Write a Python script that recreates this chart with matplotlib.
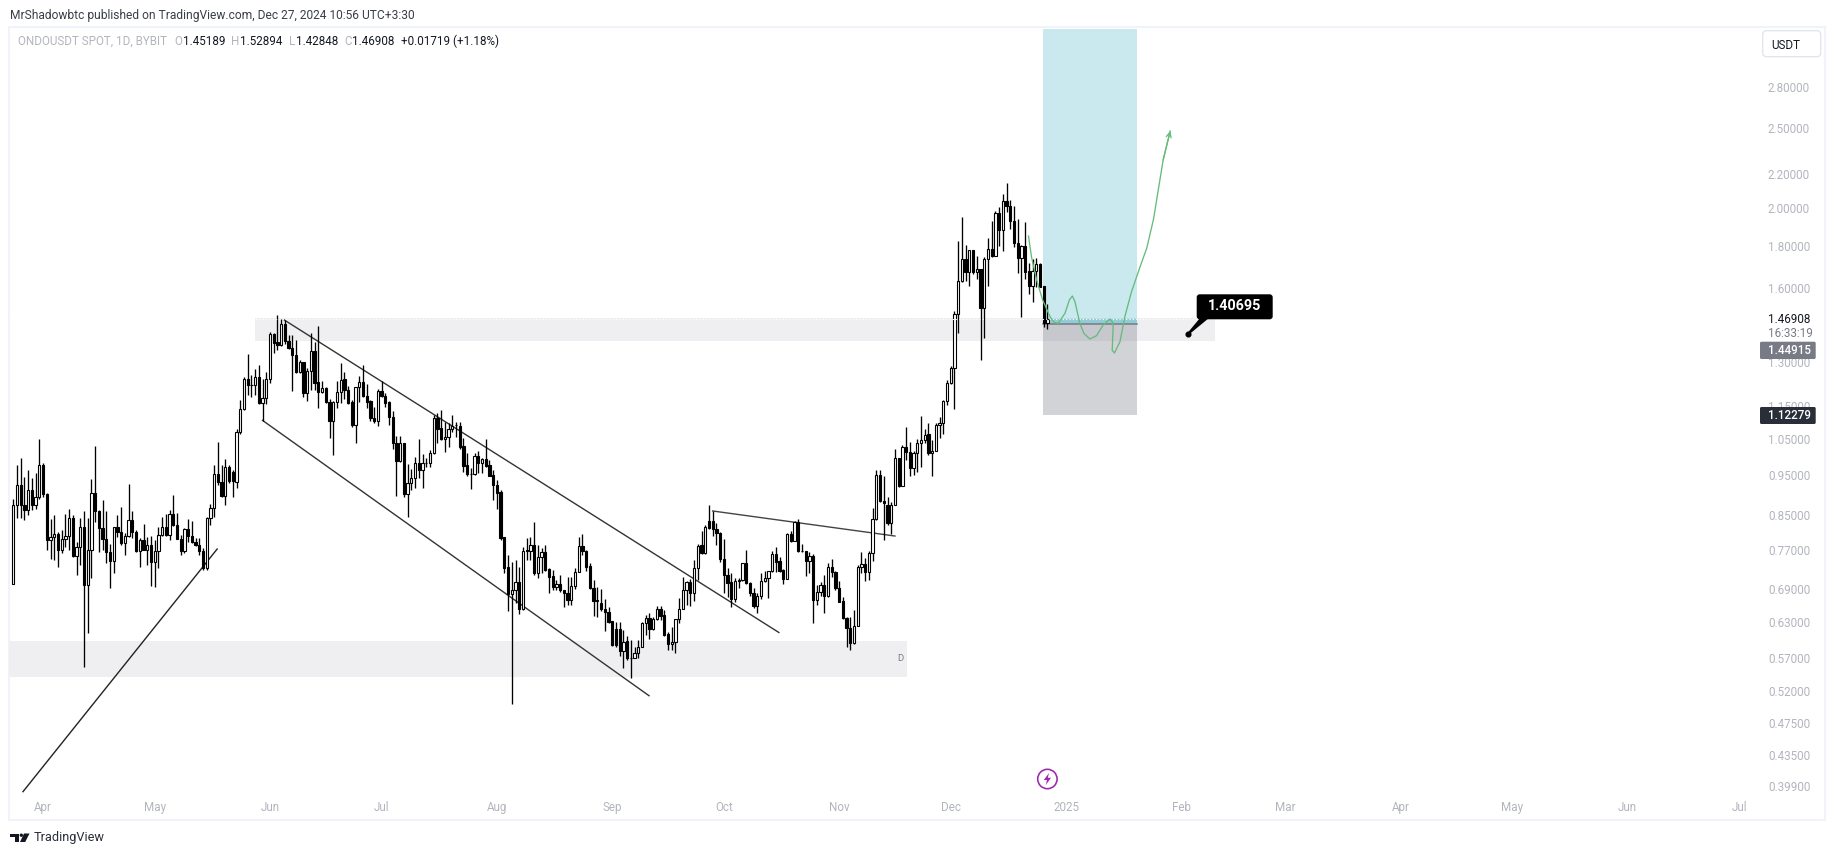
import numpy as np
import pandas as pd
import matplotlib
matplotlib.use("Agg")
import matplotlib.pyplot as plt
import matplotlib.dates as mdates
from matplotlib.patches import Rectangle, FancyBboxPatch, Circle, Polygon
from matplotlib.transforms import IdentityTransform
from matplotlib.ticker import FixedLocator, FixedFormatter, NullLocator

plt.rcParams['font.family'] = ['Roboto', 'DejaVu Sans']

opens = [.705,.877,.928,.878,.866,.915,.878,.897,.980,.903,
 .797,.803,.809,.775,.799,.806,.845,.762,.780,.825,
 .702,.775,.906,.863,.824,.799,.769,.750,.825,.813,
 .789,.804,.841,.815,.771,.797,.775,.784,.748,.771,
 .807,.826,.807,.855,.831,.799,.771,.820,.805,.791,
 .786,.772,.737,.845,.869,.955,.935,.899,.973,.962,
 .935,1.072,1.143,1.241,1.221,1.221,1.248,1.163,1.178,1.241,
 1.406,1.375,1.364,1.447,1.380,1.354,1.327,1.265,1.302,1.196,
 1.270,1.341,1.231,1.200,1.211,1.165,1.107,1.165,1.198,1.241,
 1.207,1.165,1.094,1.214,1.232,1.187,1.169,1.117,1.107,1.202,
 1.187,1.166,1.120,1.040,.991,1.040,.903,.931,.945,.984,
 .966,.986,.984,1.012,1.117,1.085,1.052,1.058,1.081,1.093,
 1.091,1.032,.979,.955,.955,1.004,.985,.995,.980,.952,
 .928,.908,.802,.738,.686,.692,.708,.657,.774,.772,
 .786,.727,.759,.769,.734,.721,.699,.705,.692,.688,
 .675,.700,.729,.783,.773,.740,.697,.674,.668,.658,
 .653,.636,.623,.623,.585,.602,.575,.575,.582,.593,
 .632,.641,.623,.640,.658,.646,.614,.597,.600,.639,
 .658,.692,.708,.688,.736,.784,.767,.838,.838,.821,
 .812,.755,.723,.708,.676,.711,.713,.746,.707,.688,
 .663,.681,.711,.716,.730,.765,.750,.732,.715,.809,
 .794,.836,.772,.771,.750,.762,.675,.690,.703,.682,
 .738,.728,.696,.672,.641,.625,.598,.627,.739,.745,
 .728,.767,.843,.952,.886,.877,.834,.877,.998,.925,
 1.030,1.016,.971,1.012,1.042,1.050,1.066,1.012,1.019,1.095,
 1.101,1.169,1.228,1.280,1.487,1.630,1.733,1.672,1.778,1.675,
 1.686,1.515,1.733,1.783,1.752,1.971,1.883,2.038,2.014,1.931,
 1.813,1.742,1.798,1.677,1.610,1.677,1.710,1.608,1.45189]
highs = [.891,.980,.998,.948,.966,.944,.957,1.052,.984,.906,
 .844,.853,.815,.819,.855,.867,.853,.792,.845,.862,
 .845,.941,1.032,.865,.889,.863,.788,.826,.853,.871,
 .811,.929,.862,.819,.800,.832,.803,.805,.796,.826,
 .848,.855,.864,.901,.857,.807,.822,.843,.838,.800,
 .801,.778,.849,.880,.980,1.043,.980,.995,.980,.966,
 1.081,1.173,1.250,1.331,1.256,1.278,1.292,1.241,1.268,1.414,
 1.410,1.484,1.467,1.464,1.404,1.404,1.386,1.310,1.303,1.280,
 1.410,1.378,1.440,1.236,1.215,1.175,1.169,1.236,1.298,1.268,
 1.219,1.173,1.217,1.254,1.292,1.225,1.173,1.149,1.208,1.236,
 1.194,1.169,1.136,1.060,1.062,1.040,.982,.969,1.002,1.052,
 1.010,.999,1.021,1.124,1.132,1.141,1.104,1.100,1.124,1.104,
 1.104,1.055,1.012,.971,1.012,1.019,.998,1.052,.993,.966,
 .940,.914,.803,.763,.749,.753,.739,.781,.800,.803,
 .836,.784,.778,.785,.736,.733,.712,.723,.693,.719,
 .719,.736,.803,.809,.775,.746,.712,.699,.695,.676,
 .661,.636,.635,.635,.621,.611,.604,.592,.604,.635,
 .647,.650,.644,.663,.663,.656,.617,.626,.639,.677,
 .719,.711,.715,.753,.788,.816,.829,.878,.862,.834,
 .813,.798,.736,.726,.716,.716,.747,.774,.708,.696,
 .687,.726,.731,.731,.771,.781,.760,.734,.811,.817,
 .838,.843,.788,.773,.770,.765,.702,.709,.723,.747,
 .755,.731,.710,.680,.644,.644,.655,.743,.769,.757,
 .773,.869,.966,.966,.950,.897,.885,1.024,1.000,1.035,
 1.088,1.043,1.017,1.052,1.122,1.081,1.100,1.050,1.100,1.120,
 1.173,1.239,1.288,1.501,1.824,1.951,1.804,1.780,1.780,1.750,
 1.688,1.744,1.838,1.929,1.986,2.004,2.081,2.143,2.046,2.012,
 1.938,1.804,1.922,1.714,1.733,1.738,1.714,1.609,1.52894]
lows = [.705,.845,.845,.841,.853,.864,.868,.892,.897,.774,
 .754,.753,.739,.767,.781,.774,.760,.722,.743,.561,
 .615,.716,.837,.769,.774,.746,.696,.727,.803,.784,
 .764,.803,.800,.769,.739,.774,.743,.701,.699,.737,
 .805,.806,.797,.827,.799,.764,.767,.792,.790,.782,
 .764,.732,.733,.830,.849,.926,.896,.878,.931,.897,
 .918,1.067,1.141,1.189,1.183,1.189,1.160,1.107,1.160,1.228,
 1.334,1.347,1.363,1.370,1.349,1.203,1.264,1.264,1.183,1.170,
 1.206,1.206,1.146,1.197,1.164,1.056,1.008,1.146,1.164,1.175,
 1.160,1.089,1.042,1.167,1.183,1.146,1.107,1.101,1.092,1.181,
 1.149,1.094,1.025,.900,.988,.897,.848,.913,.918,.945,
 .920,.975,.975,1.010,1.042,1.050,1.016,1.028,1.073,1.059,
 1.025,.961,.950,.916,.953,.957,.957,.975,.950,.889,
 .867,.796,.727,.654,.506,.668,.649,.655,.753,.753,
 .722,.716,.726,.730,.688,.692,.693,.690,.662,.665,
 .664,.695,.728,.764,.731,.694,.645,.644,.654,.619,
 .632,.594,.593,.577,.559,.572,.544,.574,.575,.592,
 .612,.606,.620,.638,.638,.610,.588,.588,.583,.632,
 .657,.665,.663,.672,.712,.765,.766,.821,.806,.786,
 .748,.687,.680,.662,.671,.696,.711,.705,.681,.660,
 .651,.676,.708,.677,.729,.729,.729,.705,.714,.791,
 .793,.769,.770,.721,.726,.633,.665,.681,.650,.680,
 .719,.692,.670,.639,.593,.587,.597,.627,.726,.711,
 .712,.750,.841,.884,.796,.831,.810,.876,.922,.924,
 .993,.950,.953,.961,.975,1.040,1.007,.950,1.018,1.055,
 1.067,1.155,1.225,1.143,1.410,1.628,1.632,1.609,1.664,1.642,
 1.308,1.393,1.609,1.744,1.748,1.799,1.776,1.980,1.887,1.793,
 1.670,1.477,1.639,1.574,1.540,1.606,1.603,1.437,1.42848]
closes = [.877,.928,.877,.866,.915,.878,.897,.980,.903,.797,
 .803,.809,.775,.799,.806,.845,.762,.780,.825,.702,
 .775,.906,.863,.824,.799,.769,.750,.825,.813,.789,
 .804,.841,.815,.771,.797,.775,.784,.748,.771,.807,
 .826,.807,.855,.831,.799,.771,.820,.805,.791,.786,
 .772,.737,.845,.869,.955,.935,.899,.973,.938,.937,
 1.072,1.143,1.241,1.221,1.221,1.248,1.162,1.178,1.241,1.406,
 1.373,1.364,1.447,1.380,1.354,1.327,1.265,1.301,1.196,1.270,
 1.341,1.230,1.200,1.211,1.165,1.107,1.165,1.198,1.239,1.207,
 1.164,1.094,1.214,1.232,1.187,1.167,1.117,1.107,1.202,1.185,
 1.164,1.119,1.040,.991,1.040,.903,.931,.945,.984,.966,
 .986,.986,1.012,1.115,1.083,1.052,1.058,1.081,1.092,1.093,
 1.030,.978,.955,.955,1.004,.985,.995,.977,.951,.926,
 .907,.801,.737,.686,.692,.708,.657,.772,.772,.786,
 .727,.759,.769,.732,.719,.699,.705,.692,.688,.675,
 .700,.729,.783,.772,.739,.696,.673,.672,.657,.652,
 .635,.595,.595,.585,.601,.574,.574,.582,.593,.632,
 .641,.623,.640,.658,.645,.612,.597,.600,.639,.658,
 .692,.708,.688,.736,.783,.767,.825,.824,.821,.811,
 .755,.723,.706,.676,.711,.713,.746,.707,.688,.663,
 .681,.711,.716,.730,.765,.748,.731,.715,.809,.794,
 .836,.771,.772,.750,.762,.675,.690,.703,.682,.738,
 .728,.696,.671,.641,.625,.598,.627,.739,.744,.728,
 .767,.843,.952,.886,.881,.834,.877,.998,.925,1.030,
 1.016,.971,1.012,1.042,1.050,1.065,1.012,1.019,1.095,1.101,
 1.169,1.228,1.280,1.487,1.630,1.733,1.672,1.780,1.675,1.686,
 1.515,1.733,1.783,1.752,1.971,1.883,2.038,2.014,1.931,1.813,
 1.742,1.798,1.675,1.610,1.677,1.710,1.606,1.450,1.46908]

# the readings above were taken with a lookup that read slightly high under 1.3
reading_level = [.561, .615, .674, .739, .811, .889, .975, 1.069, 1.173, 1.300]
reading_scale = [.992, .9927, .994, .9953, .995, .9963, .9969, .998, .9983, 1.0]

first_session = '2024-03-24'

price_ticks = [0.399, 0.435, 0.475, 0.52, 0.57, 0.63, 0.69, 0.77, 0.85, 0.95,
               1.05, 1.15, 1.30, 1.60, 1.80, 2.00, 2.20, 2.50, 2.80]
month_starts = ['2024-04-01', '2024-05-01', '2024-06-01', '2024-07-01', '2024-08-01',
                '2024-09-01', '2024-10-01', '2024-11-01', '2024-12-01', '2025-01-01',
                '2025-02-01', '2025-03-01', '2025-04-01', '2025-05-01', '2025-06-01',
                '2025-07-01']
month_labels = ['Apr', 'May', 'Jun', 'Jul', 'Aug', 'Sep', 'Oct', 'Nov', 'Dec', '2025',
                'Feb', 'Mar', 'Apr', 'May', 'Jun', 'Jul']

# drawings: session offset from first_session, price
trend_a_bar, trend_a_price = [2.6, 54.8], [.3925, .7725]
trend_b_bar, trend_b_price = [72.8, 205.8], [1.464, .612]
trend_c_bar, trend_c_price = [67.0, 170.9], [1.106, .513]
trend_d_bar, trend_d_price = [188.0, 237.0], [.859, .801]
forecast_bar = [272.9, 273.7, 275.1, 276.7, 278.7, 279.8, 280.9, 282.7, 283.9, 284.7,
                285.4, 286.7, 287.8, 289.4, 291.2, 293.0, 294.8, 295.7, 295.4, 296.0,
                297.5, 298.8, 300.6, 302.9, 304.7, 306.5, 309.1, 311.0]
forecast_price = [1.850, 1.746, 1.636, 1.548, 1.477, 1.454, 1.450, 1.491, 1.548, 1.565,
                  1.540, 1.450, 1.410, 1.388, 1.401, 1.444, 1.467, 1.450, 1.345, 1.335,
                  1.378, 1.477, 1.584, 1.698, 1.789, 1.938, 2.287, 2.480]
zone_up_bar, zone_up_price = [65.0, 323.0], [1.379, 1.470]
zone_low_bar, zone_low_price = [-1.2, 240.2], [.541, .598]
pos_bar = [276.8, 302.0]
pos_target, pos_entry, pos_stop = 3.30, 1.44915, 1.12279
last_close = 1.46908
note_bar, note_price = 315.9, 1.40695

W, H = 1835, 855
fig = plt.figure(figsize=(W / 100, H / 100), dpi=100, facecolor='white')
ax_l, ax_r, ax_t, ax_b = 9.0, 1762.0, 27.5, 795.0
ax = fig.add_axes([ax_l / W, (H - ax_b) / H, (ax_r - ax_l) / W, (ax_b - ax_t) / H])
ax.patch.set_visible(False)
for s in ax.spines.values():
    s.set_visible(False)

x0 = mdates.date2num(pd.Timestamp(first_session))
dates = x0 + np.arange(len(opens))
px_day = 3.72
ax.set_xlim(x0 + (ax_l - 13.3) / px_day, x0 + (ax_r - 13.3) / px_day)
ax.set_yscale('log')
ax.set_ylim(0.3889, 3.310)

GREY = '#B2B5BE'
ax.yaxis.tick_right()
ax.yaxis.set_major_locator(FixedLocator(price_ticks))
ax.yaxis.set_major_formatter(FixedFormatter(['%.5f' % v for v in price_ticks]))
ax.yaxis.set_minor_locator(NullLocator())
ax.xaxis.set_major_locator(FixedLocator([mdates.date2num(pd.Timestamp(d)) for d in month_starts]))
ax.xaxis.set_major_formatter(FixedFormatter(month_labels))
ax.xaxis.set_minor_locator(NullLocator())
ax.tick_params(axis='y', length=0, pad=4.3, labelsize=8.4, labelcolor=GREY)
ax.tick_params(axis='x', length=0, pad=4.5, labelsize=8.4, labelcolor=GREY)

# zones and position
def band(bars, p0, p1, **kw):
    ax.add_patch(Rectangle((x0 + bars[0], p0), bars[1] - bars[0], p1 - p0, lw=0, **kw))

band(zone_up_bar, zone_up_price[0], zone_up_price[1], fc='#EFEFF2', zorder=1)
band(zone_low_bar, zone_low_price[0], zone_low_price[1], fc='#EFEFF2', zorder=1)
band(pos_bar, pos_entry, pos_target, fc='#089BB0', alpha=0.21, zorder=2)
band(pos_bar, pos_entry, last_close, fc='#089BB0', alpha=0.25, zorder=2)
band(pos_bar, pos_stop, pos_entry, fc='#787B86', alpha=0.33, zorder=2)
ax.plot([x0 + b for b in pos_bar], [pos_entry, pos_entry], color='#787B86', lw=1.1, zorder=3)

# trend lines
for bars, prices, c in [(trend_a_bar, trend_a_price, '#222222'), (trend_b_bar, trend_b_price, '#333333'),
                        (trend_c_bar, trend_c_price, '#333333'), (trend_d_bar, trend_d_price, '#444444')]:
    ax.plot(x0 + np.array(bars), prices, color=c, lw=1.0, zorder=3)

# candles
def calibrated(values):
    v = np.array(values)
    return v * np.interp(v, reading_level, reading_scale)

o, h, l, c = map(calibrated, (opens, highs, lows, closes))
ax.vlines(dates, l, h, color='black', lw=0.95, zorder=4)
up = c >= o
body_w = 0.62
ax.bar(dates[up], (c - o)[up], bottom=o[up], width=body_w, fc='white', ec='black', lw=0.8, zorder=5)
ax.bar(dates[~up], (o - c)[~up], bottom=c[~up], width=body_w, fc='black', ec='black', lw=0.8, zorder=5)

# last-price dotted line
ax.plot([ax.get_xlim()[0], ax.get_xlim()[1]], [last_close, last_close], color='white', lw=0.8,
        ls=(0, (1, 2)), zorder=6)

# forecast
GREEN = '#66BB7A'
fx = x0 + np.array(forecast_bar)
ax.plot(fx, forecast_price, color=GREEN, lw=0.95, zorder=7, solid_joinstyle='round')
ax.annotate('', xy=(fx[-1], forecast_price[-1]), xytext=(fx[-2], forecast_price[-2]),
            arrowprops=dict(arrowstyle='->', color=GREEN, lw=0.95, mutation_scale=9, shrinkA=0, shrinkB=0),
            zorder=7)

# note marker
ax.plot([x0 + note_bar], [note_price], 'o', color='black', ms=3.4, zorder=8)

# figure-level chrome, in pixel coordinates
ID = IdentityTransform()
def T(x, y, s, **kw):
    kw.setdefault('va', 'center')
    kw.setdefault('ha', 'left')
    kw.setdefault('fontsize', 8.4)
    fig.text(x, H - y, s, transform=ID, **kw)

def box(x0_, y0_, x1_, y1_, fc, ec='none', r=2, lw=0, z=5):
    fig.add_artist(FancyBboxPatch((x0_, H - y1_), x1_ - x0_, y1_ - y0_,
                                  boxstyle='round,pad=0,rounding_size=%g' % r,
                                  fc=fc, ec=ec, lw=lw, transform=ID, zorder=z))

fig.add_artist(Rectangle((9, H - 820), 1816, 793, fc='none', ec='#F0F3FA', lw=1.5, transform=ID, zorder=-1))

T(10, 15, 'MrShadowbtc published on TradingView.com, Dec 27, 2024 10:56 UTC+3:30', color='#3A3E49', fontsize=8.65)
DARK = '#131722'
T(17.8, 41.5, 'ONDOUSDT SPOT, 1D, BYBIT', color=GREY, fontsize=8.4)
for lx, letter, vx, val in [(174, 'O', 182.6, '1.45189'), (231, 'H', 240, '1.52894'),
                            (288.5, 'L', 295.6, '1.42848'), (344, 'C', 351.8, '1.46908')]:
    T(lx, 41.5, letter, color=GREY, fontsize=8.4)
    T(vx, 41.5, val, color=DARK, fontsize=8.4)
T(401, 41.5, '+0.01719 (+1.18%)', color=DARK, fontsize=8.4)

box(1762.7, 30.7, 1820.7, 56.7, 'white', ec='#E0E3EB', r=4, lw=0.9)
T(1771.5, 45, 'USDT', color=DARK, zorder=6)

T(1768.3, 319.5, '1.46908', color=DARK)
T(1768.3, 333, '16:33:19', color='#787B86')
box(1760, 341.7, 1815.7, 359, '#787B86', r=1.5)
T(1768.3, 350, '1.44915', color='white', fontweight='medium', zorder=6)
box(1760, 407, 1815.7, 424, '#2A2E39', r=1.5)
T(1768.3, 415.5, '1.12279', color='white', fontweight='medium', zorder=6)

T(900, 658, 'D', color='#787B86', fontsize=6.8, ha='center')

# callout
fig.add_artist(Polygon([(1200, H - 318), (1209, H - 318), (1189, H - 334.5), (1187.5, H - 333)],
                       fc='black', ec='none', transform=ID, zorder=8))
box(1196.7, 294.3, 1272.7, 319.3, 'black', r=3, z=8)
T(1234.7, 306.3, '1.40695', color='white', fontweight='bold', fontsize=10.3, ha='center', zorder=9)

# event icon
PURPLE = '#9C27B0'
fig.add_artist(Circle((1047.4, H - 779), 9.7, fc='white', ec=PURPLE, lw=1.15, transform=ID, zorder=6))
bolt = [(1.6, -6), (-3.6, 1), (-0.4, 1), (-1.6, 6), (3.6, -1.2), (0.4, -1.2)]
fig.add_artist(Polygon([(1047.4 + a, H - 779 - b) for a, b in bolt], fc=PURPLE, ec='none', transform=ID, zorder=7))

# TradingView mark
LOGO = '#131722'
fig.add_artist(Polygon([(10, H - 833.5), (19.3, H - 833.5), (19.3, H - 842), (14.5, H - 842), (14.5, H - 837), (10, H - 837)],
                       fc=LOGO, ec='none', transform=ID, zorder=6))
fig.add_artist(Circle((21.3, H - 835.2), 1.7, fc=LOGO, ec='none', transform=ID, zorder=6))
fig.add_artist(Polygon([(24, H - 833.5), (29.5, H - 833.5), (25.2, H - 842), (20, H - 842)],
                       fc=LOGO, ec='none', transform=ID, zorder=6))
T(33.5, 837, 'TradingView', color='#2A2E39', fontsize=9.2)

fig.savefig('out.png', dpi=100, facecolor='white')
